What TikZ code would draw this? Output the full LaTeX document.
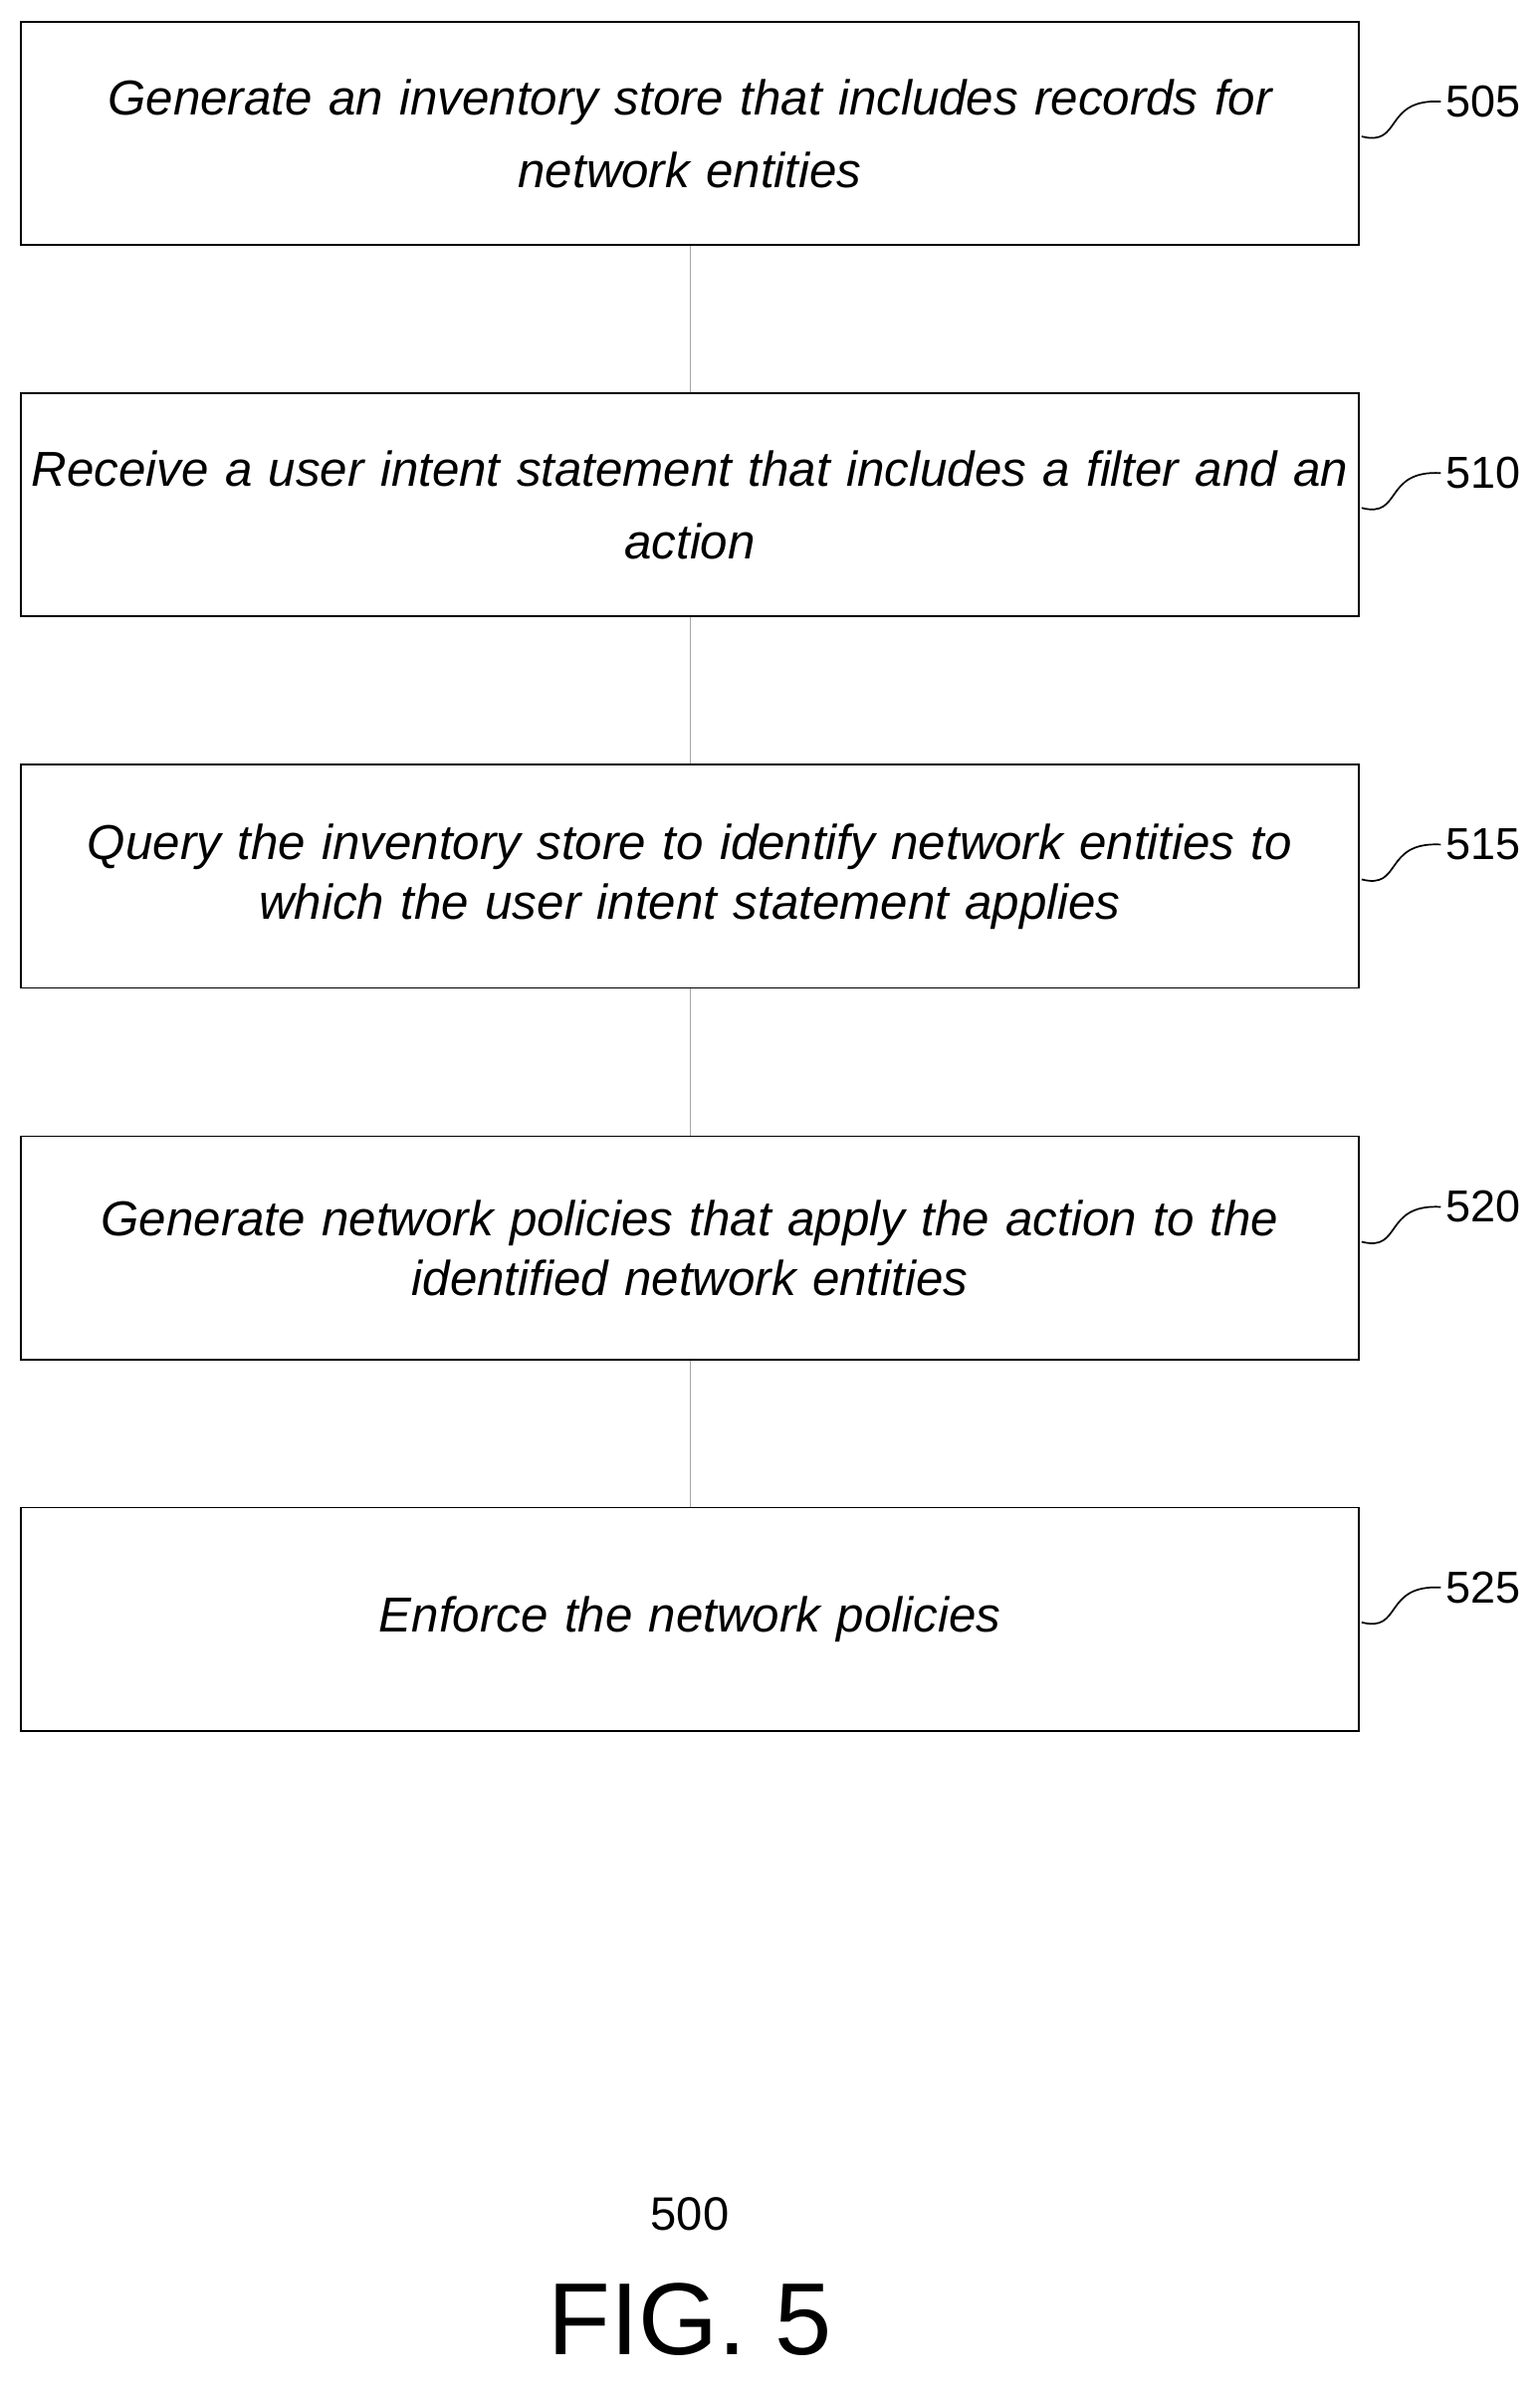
\documentclass[tikz,border=0pt]{standalone}
\usepackage{fontspec}
\setmainfont{Liberation Sans}
\usetikzlibrary{positioning}
\begin{document}
\begin{tikzpicture}[x=0.025cm, y=-0.025cm]

% Overall frame of the page
\useasboundingbox (0,0) rectangle (1015,1575);

% Define styles for steps and reference numbers
\tikzstyle{stepbox} = [draw, thick, minimum width=22.05cm, minimum height=3.68cm, text width=21.9cm, align=center, font=\fontsize{23}{28}\selectfont\itshape, inner sep=0pt]
\tikzstyle{refnum} = [font=\fontsize{21}{24}\selectfont, anchor=west, inner sep=0pt]
\tikzstyle{link} = [draw, gray!70, thin]

\node[stepbox] (s505) at (455,88) {Generate an inventory store that includes records for\\[6pt] network entities};
\node[stepbox] (s510) at (455,333) {Receive a user intent statement that includes a filter and an\\[6pt] action};
\node[stepbox] (s515) at (455,578) {Query the inventory store to identify network entities to\\ which the user intent statement applies};
\node[stepbox] (s520) at (455,823) {Generate network policies that apply the action to the\\ identified network entities};
\node[stepbox] (s525) at (455,1068) {Enforce the network policies};

\foreach \a/\b in {s505/s510, s510/s515, s515/s520, s520/s525}
  \path[link] (\a) -- (\b);

% Reference numbers with squiggles
\foreach \n/\y in {505/67, 510/312, 515/557, 520/796, 525/1047}{
  \node[refnum] (r\n) at (953,\y) {\n};
  \coordinate (c\n) at (898,\y+23);
  \draw[thick] (c\n) .. controls (925,\y+30) and (912,\y-2) .. ([xshift=-2pt]r\n.west);
}

\node[font=\fontsize{22}{26}\selectfont] (fignum) at (455,1460) {500};
\node[font=\fontsize{48}{56}\selectfont] (figlabel) at (455,1530) {FIG. 5};
\end{tikzpicture}
\end{document}
